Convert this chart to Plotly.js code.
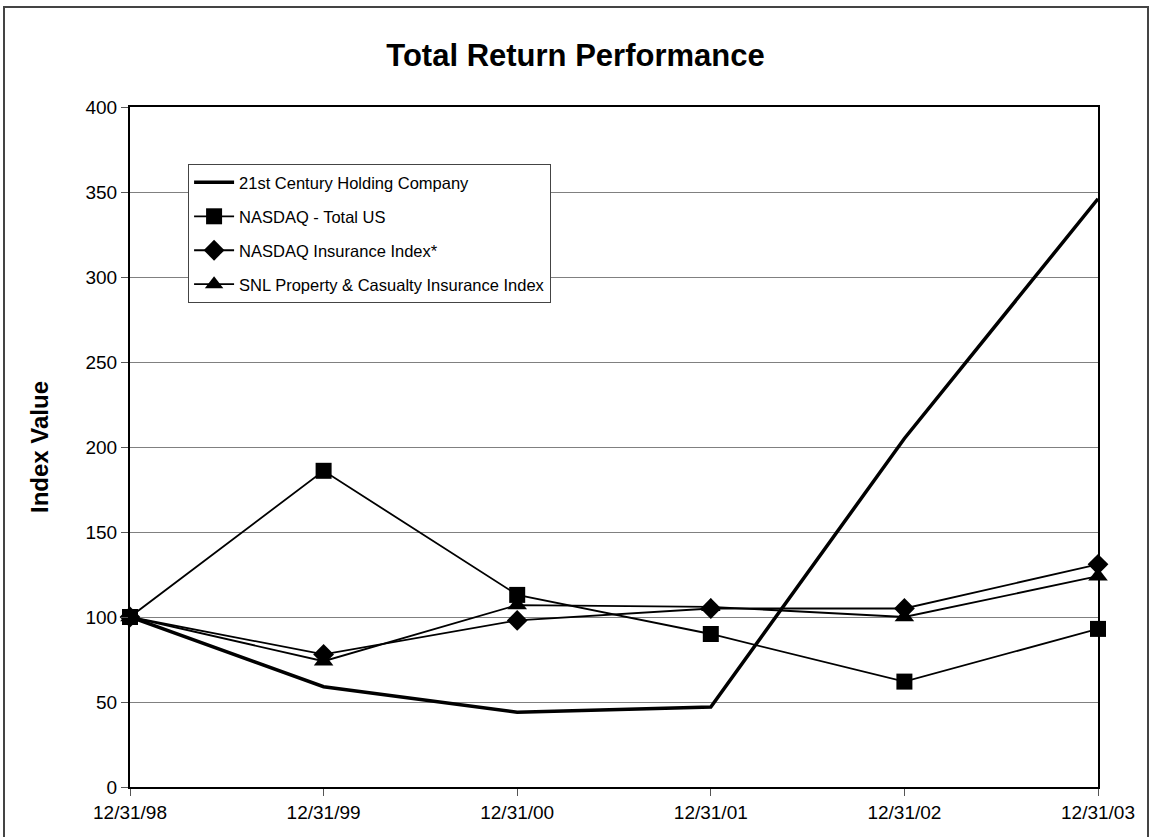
<!DOCTYPE html>
<html>
<head>
<meta charset="utf-8">
<script src="https://cdn.plot.ly/plotly-3.0.1.min.js"></script>
<style>
html,body{margin:0;padding:0;background:#fff;}
#chart{width:1151px;height:837px;}
</style>
</head>
<body>
<div id="chart"></div>
<script>
const dates = ['12/31/98','12/31/99','12/31/00','12/31/01','12/31/02','12/31/03'];
const centuryHolding = [100, 59, 44, 47, 205, 346];
const nasdaqTotalUS = [100, 186, 113, 90, 62, 93];
const nasdaqInsurance = [100, 78, 98, 105, 105, 131];
const snlPropertyCasualty = [100, 74, 107, 106, 100, 124];
const seriesNames = ['21st Century Holding Company','NASDAQ - Total US','NASDAQ Insurance Index*','SNL Property & Casualty Insurance Index'];
const yTicks = [0,50,100,150,200,250,300,350,400];

const traces = [
  {x: dates, y: centuryHolding, name: seriesNames[0], mode: 'lines', legendgroup:'a',
   line: {color: '#000', width: 3.5}, cliponaxis: false},
  {x: dates, y: nasdaqTotalUS, name: seriesNames[1], mode: 'lines+markers', legendgroup:'b',
   line: {color: '#000', width: 1.8}, marker: {symbol: 'square', size: 16, color: '#000'}, cliponaxis: false},
  {x: dates, y: nasdaqInsurance, name: seriesNames[2], mode: 'lines+markers', legendgroup:'c',
   line: {color: '#000', width: 1.8}, marker: {symbol: 'diamond', size: 16, color: '#000'}, cliponaxis: false},
  {x: dates, y: snlPropertyCasualty, name: seriesNames[3], mode: 'lines+markers', legendgroup:'d',
   line: {color: '#000', width: 1.8}, marker: {symbol: 'triangle-up', size: 17, color: '#000'}, cliponaxis: false}
];

const layout = {
  width: 1151, height: 837,
  margin: {l: 130, r: 53, t: 107, b: 50},
  paper_bgcolor: '#fff', plot_bgcolor: '#fff',
  font: {family: 'Arial, "Liberation Sans", sans-serif', color: '#000', size: 19},
  title: {text: '<b>Total Return Performance</b>', font: {size: 31, family: 'Arial, "Liberation Sans", sans-serif'},
          x: 0.5, xref: 'container', y: 0.934, yref: 'container', yanchor: 'middle'},
  showlegend: true,
  legend: {x: 0.060, y: 0.916, xanchor: 'left', yanchor: 'top', bgcolor: '#fff',
           bordercolor: '#444', borderwidth: 1, font: {size: 16.5},
           traceorder: 'grouped', tracegroupgap: 9.5, itemwidth: 40},
  xaxis: {type: 'category', range: [0, 5], showgrid: false, showline: true, mirror: true,
          linecolor: '#000', linewidth: 2, ticks: 'outside', ticklen: 7, tickcolor: '#555',
          tickfont: {size: 19}, zeroline: false, fixedrange: true},
  yaxis: {range: [0, 400], tickvals: yTicks, showgrid: true, gridcolor: '#808080', gridwidth: 1,
          showline: true, mirror: true, linecolor: '#000', linewidth: 2, ticks: 'outside', ticklen: 7,
          tickcolor: '#555', tickfont: {size: 19}, zeroline: false,
          title: {text: '<b>Index Value</b>', font: {size: 24}, standoff: 30}},
  shapes: [
    {type: 'rect', xref: 'paper', yref: 'paper', x0: (4-130)/968, x1: (1148-130)/968,
     y0: (787-840)/680, y1: (787-7)/680, line: {color: '#444', width: 2}, layer: 'below'}
  ]
};

Plotly.newPlot('chart', traces, layout, {displayModeBar: false, staticPlot: true});
</script>
</body>
</html>
